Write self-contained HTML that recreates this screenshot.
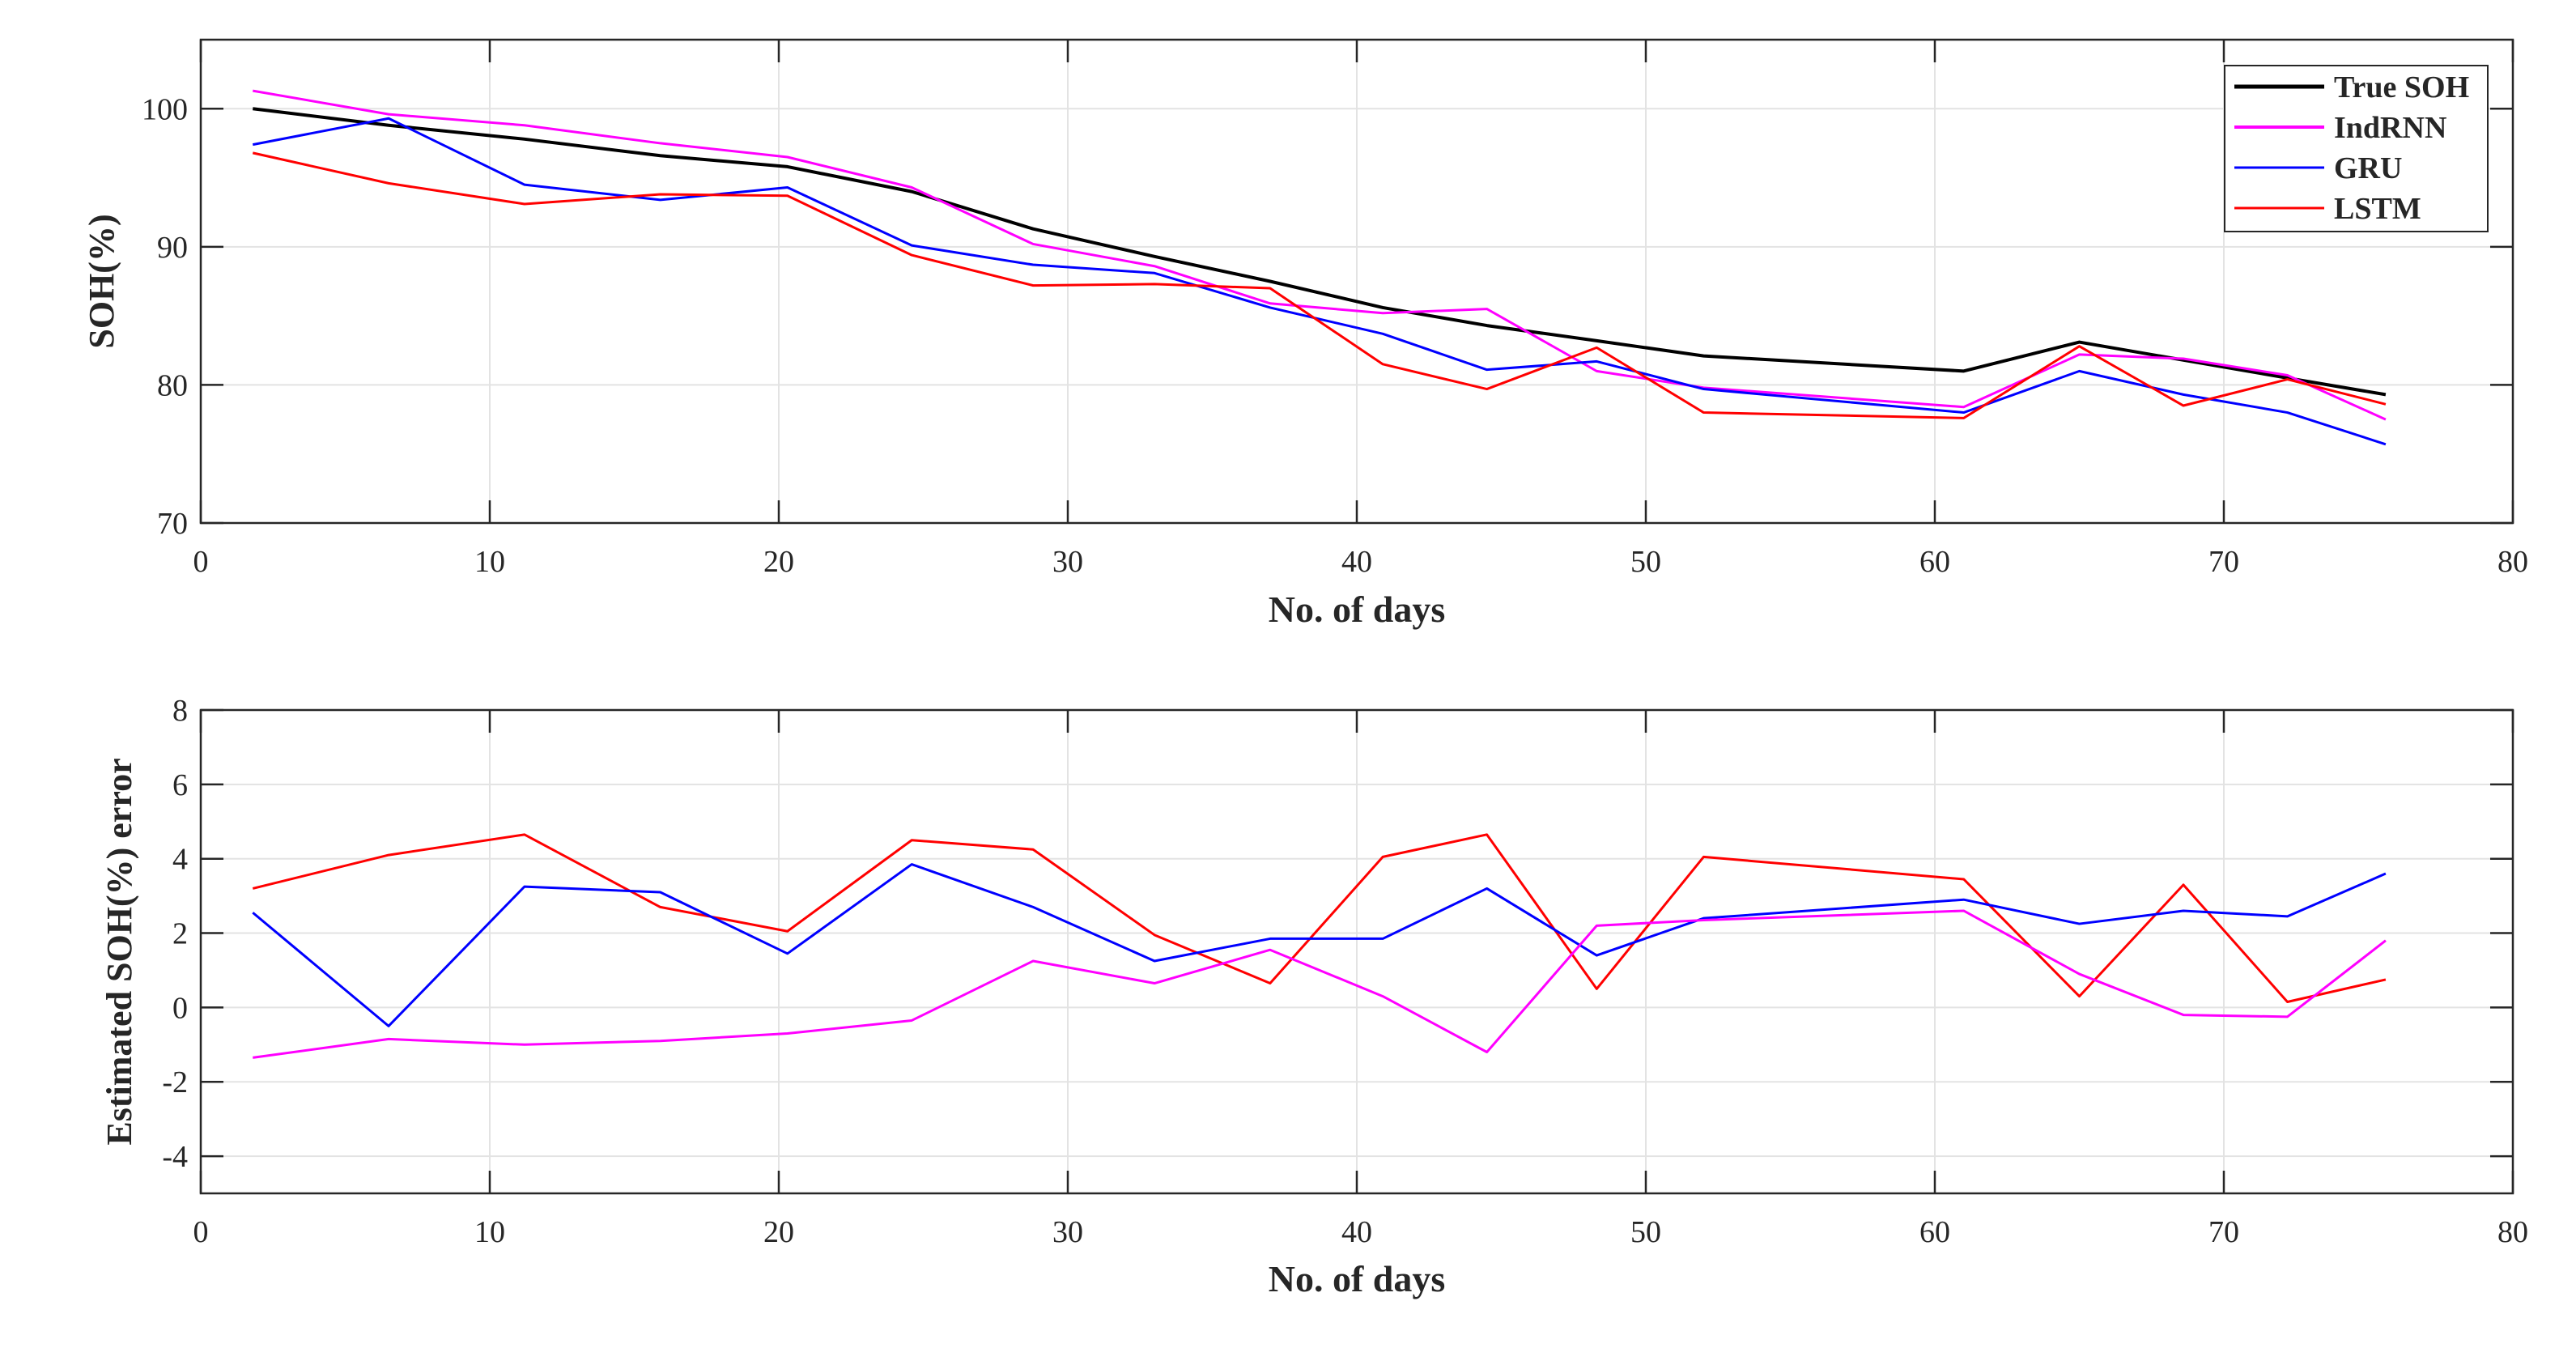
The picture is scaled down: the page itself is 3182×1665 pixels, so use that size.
<!DOCTYPE html>
<html><head><meta charset="utf-8"><style>
html,body{margin:0;padding:0;background:#fff}
svg{display:block}
text{font-family:"Liberation Serif",serif;fill:#262626}
</style></head><body>
<svg id="chart" width="3182" height="1665" xmlns="http://www.w3.org/2000/svg"></svg>
<script>
const days=[1.8,6.5,11.2,15.9,20.3,24.6,28.8,33.0,37.0,40.9,44.5,48.3,52.0,61.0,65.0,68.6,72.2,75.6];
const trueSOH=[100,98.8,97.8,96.6,95.8,94,91.3,89.3,87.5,85.6,84.3,83.2,82.1,81,83.1,81.8,80.5,79.3];
const indrnnSOH=[101.3,99.6,98.8,97.5,96.5,94.3,90.2,88.6,85.9,85.2,85.5,81,79.8,78.4,82.2,81.9,80.7,77.5];
const gruSOH=[97.4,99.3,94.5,93.4,94.3,90.1,88.7,88.1,85.6,83.7,81.1,81.7,79.7,78,81,79.3,78.0,75.7];
const lstmSOH=[96.8,94.6,93.1,93.8,93.7,89.4,87.2,87.3,87.0,81.5,79.7,82.7,78.0,77.6,82.8,78.5,80.4,78.6];
const lstmErr=[3.2,4.1,4.65,2.7,2.05,4.5,4.25,1.95,0.65,4.05,4.65,0.5,4.05,3.45,0.3,3.3,0.15,0.75];
const gruErr=[2.55,-0.5,3.25,3.1,1.45,3.85,2.7,1.25,1.85,1.85,3.2,1.4,2.4,2.9,2.25,2.6,2.45,3.6];
const indrnnErr=[-1.35,-0.85,-1.0,-0.9,-0.7,-0.35,1.25,0.65,1.55,0.3,-1.2,2.2,2.35,2.6,0.9,-0.2,-0.25,1.8];
const xTicks=[0,10,20,30,40,50,60,70,80];
const yTicksTop=[70,80,90,100];
const yTicksBot=[-4,-2,0,2,4,6,8];
const legendLabels=["True SOH","IndRNN","GRU","LSTM"];

const NS="http://www.w3.org/2000/svg";
const svg=document.getElementById('chart');
function el(tag,attrs,parent,txt){const e=document.createElementNS(NS,tag);for(const k in attrs)e.setAttribute(k,attrs[k]);if(txt!==undefined)e.textContent=txt;(parent||svg).appendChild(e);return e;}

function panel(cfg){
  const L=248,R=3104,T=cfg.top,B=cfg.bottom;
  const sx=v=>L+(v-0)/(80-0)*(R-L);
  const sy=v=>B-(v-cfg.ymin)/(cfg.ymax-cfg.ymin)*(B-T);
  const g=el('g',{});
  
  
  xTicks.forEach(t=>{if(t>0&&t<80){const l=el('line',{x1:sx(t),x2:sx(t),y1:T,y2:B,stroke:'#e3e3e3','stroke-width':2},g);}});
  cfg.yticks.forEach(t=>{const l=el('line',{x1:L,x2:R,y1:sy(t),y2:sy(t),stroke:'#e3e3e3','stroke-width':2},g);});
  cfg.series.forEach(s=>{
    const p=el('polyline',{points:days.map((d,i)=>sx(d)+','+sy(s.v[i])).join(' '),fill:'none',stroke:s.c,'stroke-width':s.w,'stroke-linejoin':'round'},g);
    
    
  });
  const bx=el('rect',{x:L,y:T,width:R-L,height:B-T,fill:'none',stroke:'#262626','stroke-width':2.5},g);
  
  
  xTicks.forEach(t=>{
    el('line',{x1:sx(t),x2:sx(t),y1:B,y2:B-28,stroke:'#262626','stroke-width':2.5},g);
    el('line',{x1:sx(t),x2:sx(t),y1:T,y2:T+28,stroke:'#262626','stroke-width':2.5},g);
    const tx=el('text',{x:sx(t),y:cfg.xTickY,'font-size':38,'text-anchor':'middle'},g,String(t));
    
    
  });
  cfg.yticks.forEach(t=>{
    el('line',{x1:L,x2:L+28,y1:sy(t),y2:sy(t),stroke:'#262626','stroke-width':2.5},g);
    el('line',{x1:R,x2:R-28,y1:sy(t),y2:sy(t),stroke:'#262626','stroke-width':2.5},g);
    const ty=el('text',{x:232,y:sy(t)+13,'font-size':38,'text-anchor':'end'},g,String(t));
    
    
  });
  const xl=el('text',{x:(L+R)/2,y:cfg.xLabelY,'font-size':46,'font-weight':'bold','text-anchor':'middle'},g,'No. of days');
  
  
  const yl=el('text',{x:0,y:0,'font-size':44,'font-weight':'bold','text-anchor':'middle',transform:`translate(${cfg.yLabelX},${(T+B)/2}) rotate(-90)`},g,cfg.ylabel);
  
  
}

panel({name:'soh-panel',top:49,bottom:646,ymin:70,ymax:105,yticks:yTicksTop,xTickY:706,xLabelY:768,yLabelX:140,ylabel:'SOH(%)',
  series:[{v:trueSOH,c:'#000',w:4,n:'true-soh-line'},{v:indrnnSOH,c:'#ff00ff',w:3,n:'indrnn-soh-line'},{v:gruSOH,c:'#0000ff',w:3,n:'gru-soh-line'},{v:lstmSOH,c:'#ff0000',w:3,n:'lstm-soh-line'}]});
panel({name:'error-panel',top:877,bottom:1474,ymin:-5,ymax:8,yticks:yTicksBot,xTickY:1534,xLabelY:1595,yLabelX:162,ylabel:'Estimated SOH(%) error',
  series:[{v:lstmErr,c:'#ff0000',w:3,n:'lstm-error-line'},{v:gruErr,c:'#0000ff',w:3,n:'gru-error-line'},{v:indrnnErr,c:'#ff00ff',w:3,n:'indrnn-error-line'}]});

const lg=el('g',{});


el('rect',{x:2748,y:81,width:325,height:205,fill:'#fff',stroke:'#262626','stroke-width':2},lg);
const lc=['#000','#ff00ff','#0000ff','#ff0000'];
const lw=[5,4,3,3];
legendLabels.forEach((lab,i)=>{
  const y=107+i*50;
  const e=el('g',{},lg);
  
  
  el('line',{x1:2760,x2:2871,y1:y,y2:y,stroke:lc[i],'stroke-width':lw[i]},e);
  el('text',{x:2883,y:y+13,'font-size':38,'font-weight':'bold'},e,lab);
});
</script>
</body></html>
